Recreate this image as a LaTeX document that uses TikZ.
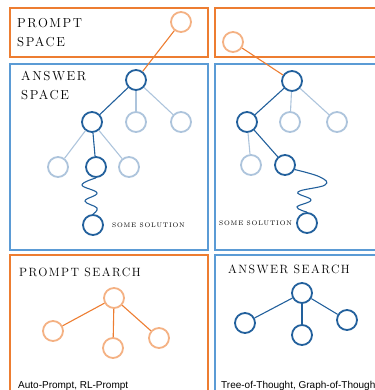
\documentclass[tikz,border=0pt]{standalone}
\usepackage{fontspec}
\usetikzlibrary{positioning}
\newfontfamily\headfont[LetterSpace=12]{Latin Modern Roman}
\newfontfamily\notefont{Liberation Sans}
\definecolor{boxorange}{HTML}{ED7D31}
\definecolor{peach}{HTML}{F4B183}
\definecolor{boxblue}{HTML}{5B9BD5}
\definecolor{deepblue}{HTML}{22609C}
\definecolor{paleblue}{HTML}{ADC4DC}
\begin{document}
\begin{tikzpicture}[x=1pt, y=-1pt,
    obox/.style={draw=boxorange, line width=1.4pt},
    bbox/.style={draw=boxblue, line width=1.4pt},
    pnode/.style={circle, draw=peach, line width=1.8pt, minimum size=20pt, inner sep=0pt},
    dnode/.style={pnode, draw=deepblue},
    lnode/.style={pnode, draw=paleblue},
    oedge/.style={draw=boxorange, line width=1.1pt},
    dedge/.style={draw=deepblue, line width=1.1pt},
    ledge/.style={draw=paleblue, line width=1.1pt},
    head/.style={anchor=north west, inner sep=0pt, align=left, font=\headfont\fontsize{13}{19.5}\selectfont},
    tag/.style={inner sep=0pt, font=\headfont\fontsize{6.6}{8}\selectfont},
    note/.style={anchor=base west, inner sep=0pt, font=\notefont\fontsize{10}{12}\selectfont}]
  \useasboundingbox (0,0) rectangle (374,390);
  % the six frames
  \draw[obox] (10,8) rectangle (208,57);
  \draw[obox] (215,8) rectangle (380,57);
  \draw[bbox] (10,64) rectangle (208,250);
  \draw[bbox] (215,64) rectangle (380,250);
  \draw[obox] (10,255) rectangle (208,400);
  \draw[bbox] (215,255) rectangle (380,400);
  \node[head] (ptitle) at (17,18) {PROMPT\\SPACE};
  \node[head] (atitle) at (21,71) {ANSWER\\SPACE};
  % left: one prompt, then the answer tree
  \node[pnode] (p1) at (181,22) {};
  \node[dnode] (r1) at (136,80) {};
  \node[dnode] (a1) at (92,122) {};
  \node[lnode] (b1) at (136,122) {};
  \node[lnode] (c1) at (181,122) {};
  \node[lnode] (d1) at (58,167) {};
  \node[dnode] (e1) at (96,167) {};
  \node[lnode] (f1) at (129,167) {};
  \node[dnode] (s1) at (93,225) {};
  \node[tag, right=8pt of s1] (s1tag) {SOME SOLUTION};
  \draw[oedge] (p1) -- (r1);
  \draw[dedge] (r1) -- (a1);
  \draw[ledge] (r1) -- (b1);
  \draw[ledge] (r1) -- (c1);
  \draw[ledge] (a1) -- (d1);
  \draw[dedge] (a1) -- (e1);
  \draw[ledge] (a1) -- (f1);
  \draw[dedge] plot[smooth, tension=0.7] coordinates {(e1.south) (82,185) (97,193) (85,201) (97,208) (s1.north)};
  % right: another prompt, another path
  \node[pnode] (p2) at (233,42) {};
  \node[dnode] (r2) at (292,81) {};
  \node[dnode] (a2) at (247,122) {};
  \node[lnode] (b2) at (290,122) {};
  \node[lnode] (c2) at (337,122) {};
  \node[lnode] (d2) at (251,165) {};
  \node[dnode] (e2) at (285,165) {};
  \node[dnode] (s2) at (307,223) {};
  \node[tag, left=4pt of s2] (s2tag) {SOME SOLUTION};
  \draw[oedge] (p2) -- (r2);
  \draw[dedge] (r2) -- (a2);
  \draw[ledge] (r2) -- (b2);
  \draw[ledge] (r2) -- (c2);
  \draw[ledge] (a2) -- (d2);
  \draw[dedge] (a2) -- (e2);
  \draw[dedge] plot[smooth, tension=0.7] coordinates {(e2.-25) (320,177) (325,185) (298,192) (311,200) (297,207) (s2.north)};
  % bottom: the two kinds of search
  \node[head, font=\headfont\fontsize{12}{14}\selectfont] (pstitle) at (19,268) {PROMPT SEARCH};
  \node[pnode] (q1) at (114,298) {};
  \node[pnode] (q2) at (53,331) {};
  \node[pnode] (q3) at (113,348) {};
  \node[pnode] (q4) at (159,338) {};
  \foreach \n in {q2,q3,q4}
    \draw[oedge] (q1) -- (\n);
  \node[note] (psnote) at (18,388) {Auto-Prompt, RL-Prompt};
  \node[head, font=\headfont\fontsize{12}{14}\selectfont] (astitle) at (228,265) {ANSWER SEARCH};
  \node[dnode] (t1) at (302,293) {};
  \node[dnode] (t2) at (245,323) {};
  \node[dnode] (t3) at (302,335) {};
  \node[dnode] (t4) at (347,320) {};
  \foreach \n in {t2,t3,t4}
    \draw[dedge] (t1) -- (\n);
  \node[note] (asnote) at (221,388) {Tree-of-Thought, Graph-of-Thought};
\end{tikzpicture}
\end{document}
